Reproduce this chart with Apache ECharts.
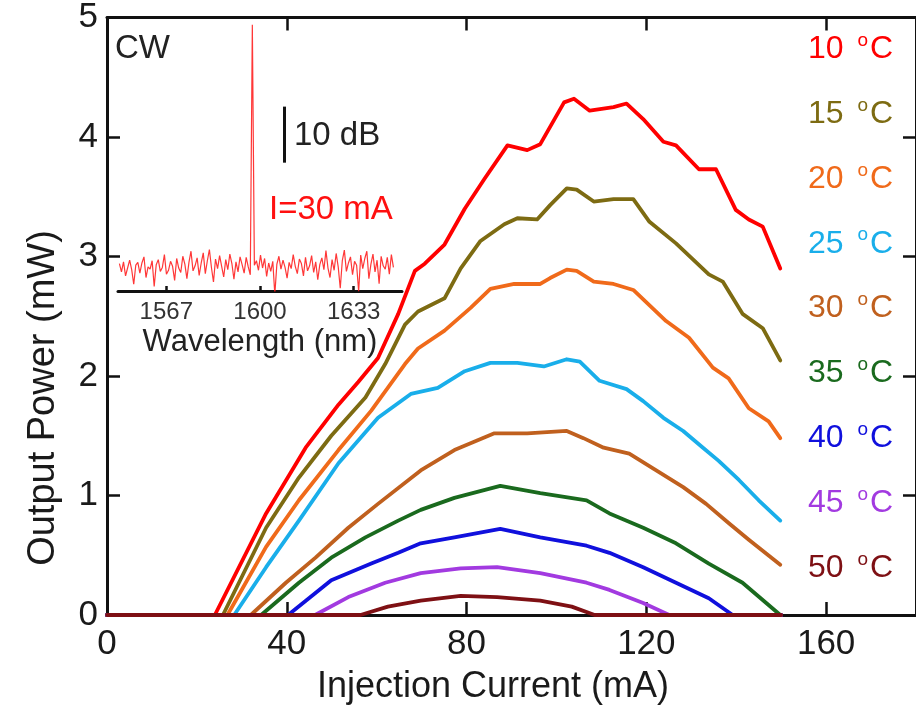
<!DOCTYPE html>
<html>
<head>
<meta charset="utf-8">
<script src="https://cdn.jsdelivr.net/npm/echarts@6/dist/echarts.min.js"></script>
<style>html,body{margin:0;padding:0;background:#fff}#c{width:916px;height:714px}</style>
</head>
<body>
<div id="c"></div>
<script>
// ---- Main chart data: injection current (mA) vs output power (mW) ----
const temps = ['10','15','20','25','30','35','40','45','50'];
const colors = ['#ff0000','#7d6b12','#f06a1a','#19aeea','#c0601e','#1a6a1e','#1010dd','#a23ae0','#7e1014'];

const t10 = [[0,0],[24.0,0],[35.4,0.85],[44.2,1.40],[51.5,1.76],[55.9,1.95],[60.3,2.15],[64.8,2.52],[68.5,2.88],[70.7,2.94],[75.1,3.10],[79.6,3.40],[84.0,3.65],[89.1,3.93],[93.5,3.89],[96.4,3.94],[101.7,4.29],[103.9,4.32],[107.4,4.22],[112.7,4.25],[115.6,4.28],[119.3,4.15],[123.8,3.96],[126.6,3.93],[131.7,3.73],[135.5,3.73],[139.9,3.39],[142.8,3.31],[145.9,3.25],[149.8,2.90]];
const t15 = [[0,0],[25.8,0],[35.4,0.73],[42.7,1.15],[49.9,1.50],[57.5,1.82],[61.9,2.10],[66.3,2.43],[69.2,2.54],[75.1,2.65],[78.7,2.90],[83.1,3.13],[88.4,3.27],[91.3,3.32],[95.7,3.31],[98.6,3.43],[102.3,3.57],[104.5,3.56],[108.3,3.46],[112.7,3.48],[117.1,3.48],[120.7,3.29],[126.6,3.11],[133.9,2.85],[137.0,2.79],[141.4,2.52],[145.9,2.40],[149.8,2.13]];
const t20 = [[0,0],[26.8,0],[35.4,0.57],[42.7,0.96],[51.5,1.38],[58.8,1.71],[66.3,2.10],[69.2,2.23],[75.1,2.38],[80.9,2.57],[85.3,2.73],[90.6,2.77],[96.4,2.77],[98.6,2.82],[102.3,2.89],[104.5,2.88],[108.3,2.79],[112.7,2.77],[117.1,2.72],[124.4,2.46],[129.5,2.32],[134.8,2.07],[138.3,1.98],[142.8,1.73],[147.2,1.62],[149.8,1.48]];
const t25 = [[0,0],[28.3,0],[35.4,0.40],[42.7,0.79],[51.5,1.27],[60.3,1.65],[67.6,1.85],[73.6,1.90],[79.6,2.04],[85.3,2.11],[91.3,2.11],[97.2,2.08],[102.3,2.14],[105.2,2.12],[109.6,1.96],[115.6,1.89],[119.3,1.79],[123.8,1.65],[128.2,1.54],[132.6,1.40],[136.1,1.29],[140.6,1.13],[145.0,0.96],[149.8,0.79]];
const t30 = [[0,0],[32.0,0],[39.8,0.27],[46.4,0.48],[53.7,0.73],[60.3,0.93],[69.8,1.21],[77.3,1.38],[86.2,1.52],[93.5,1.52],[102.3,1.54],[106.0,1.48],[110.5,1.40],[116.2,1.35],[122.2,1.21],[128.2,1.07],[133.3,0.93],[138.3,0.77],[142.8,0.63],[149.8,0.42]];
const t35 = [[0,0],[34.3,0],[42.7,0.27],[49.9,0.48],[57.5,0.65],[64.8,0.79],[69.8,0.88],[77.3,0.98],[87.5,1.08],[96.4,1.02],[106.7,0.96],[111.8,0.85],[119.3,0.73],[126.6,0.60],[133.9,0.43],[141.4,0.27],[149.8,0.0],[150,0]];
const t40 = [[0,0],[40.3,0],[49.9,0.29],[58.8,0.43],[64.8,0.52],[69.8,0.60],[77.3,0.65],[87.5,0.72],[96.4,0.65],[106.7,0.58],[111.8,0.52],[119.3,0.40],[126.6,0.27],[133.9,0.14],[139.2,0],[150,0]];
const t45 = [[0,0],[46.3,0],[53.7,0.15],[61.9,0.27],[69.8,0.35],[78.7,0.39],[86.8,0.40],[96.4,0.35],[106.7,0.27],[111.8,0.21],[119.3,0.10],[125.1,0],[150,0]];
const t50 = [[0,0],[56.4,0],[62.5,0.07],[69.8,0.12],[78.7,0.16],[86.8,0.15],[96.4,0.12],[103.4,0.07],[108.5,0],[150,0]];
const curves = [t10,t15,t20,t25,t30,t35,t40,t45,t50];

// ---- Inset spectrum (I = 30 mA) ----
const specStart = 1550.5;   // nm, first sample
const specStep = 0.72;      // nm between samples
const specDb = [
-43.1,-44.6,-42.8,-45.3,-43.9,-42.5,-44.2,-46.8,-43.4,-42.9,
-44.8,-43.0,-41.9,-45.6,-43.7,-44.1,-42.6,-47.2,-43.3,-42.4,
-44.5,-43.8,-41.5,-45.0,-44.3,-42.7,-43.6,-46.1,-42.2,-43.9,
-44.7,-41.8,-43.2,-45.8,-42.9,-40.9,-44.4,-43.5,-42.1,-45.2,
-43.0,-41.2,-44.9,-42.6,-40.6,-43.8,-46.4,-42.3,-44.0,-41.7,
-43.6,-45.5,-42.4,-44.2,-41.4,-43.1,-45.9,-42.8,-44.6,-41.9,
-43.3,-44.8,-42.0,-43.7,-45.1,-0.5,-43.4,-42.6,-44.3,-41.6,
-43.9,-42.2,-45.4,-43.0,-44.5,-42.7,-48.6,-43.2,-41.8,-44.1,
-42.5,-43.8,-45.7,-42.9,-44.0,-41.5,-43.6,-44.9,-42.3,-43.1,
-45.3,-42.0,-44.4,-43.5,-41.7,-44.7,-42.8,-46.0,-43.3,-42.1,
-44.2,-40.8,-43.9,-45.6,-42.4,-44.3,-41.3,-43.7,-47.5,-42.6,
-40.7,-44.5,-43.0,-41.9,-45.1,-42.7,-43.4,-48.1,-41.6,-44.0,
-42.2,-40.9,-45.8,-43.2,-41.4,-44.6,-42.5,-46.7,-41.8,-43.5,
-44.1,-42.0,-45.0,-41.5,-43.8];
const insetTicks = [1567,1600,1633];
const scaleBar = [[1608.6,-25.1],[1608.6,-15.1]]; // 10 dB bar

const FONT = "'Liberation Sans', Arial, sans-serif";
const chart = echarts.init(document.getElementById('c'), null, {renderer:'canvas'});

const specData = specDb.map((v,i)=>[specStart + i*specStep, v]);

const series = curves.map((d,i)=>({
  type:'line', name:temps[i] + ' °C', data:d, xAxisIndex:0, yAxisIndex:0,
  showSymbol:false, symbol:'none', smooth:false,
  lineStyle:{color:colors[i], width:3.8, join:'round', cap:'round'}, itemStyle:{color:colors[i]},
  z: 3 + i
}));
series.push({
  type:'line', data:specData, xAxisIndex:2, yAxisIndex:2,
  showSymbol:false, symbol:'none',
  lineStyle:{color:'rgba(255,20,20,0.85)', width:1.2}, z:2,
  markLine:{
    silent:true, symbol:'none', animation:false,
    lineStyle:{color:'#111', width:3, type:'solid'},
    label:{show:false},
    data:[[{coord:scaleBar[0]},{coord:scaleBar[1]}]]
  }
});

const axisLine = {show:true, onZero:false, lineStyle:{color:'#111', width:3}};
const graphics = [
  {type:'text', left:115, top:32, style:{text:'CW', fontSize:33, fontFamily:FONT, fill:'#222'}},
  {type:'text', left:294, top:119, style:{text:'10 dB', fontSize:33, fontFamily:FONT, fill:'#222'}},
  {type:'text', left:269, top:193, style:{text:'I=30 mA', fontSize:33, fontFamily:FONT, fill:'#ff1010'}},
  {type:'text', x:493, y:687, style:{text:'Injection Current (mA)', fontSize:36, fontFamily:FONT, fill:'#1a1a1a', align:'center', verticalAlign:'middle'}},
  {type:'text', x:44, y:398, rotation:Math.PI/2, style:{text:'Output Power (mW)', fontSize:38, fontFamily:FONT, fill:'#1a1a1a', align:'center', verticalAlign:'middle'}}
];
temps.forEach((t,i)=>{
  graphics.push({type:'text', left:808, top:31 + i*64.9,
    style:{text:'{n|' + t + ' }{o|o}{c|C}', fill:colors[i],
      rich:{
        n:{fontSize:32, fontFamily:FONT, fill:colors[i], color:colors[i]},
        o:{fontSize:19, fontFamily:FONT, fill:colors[i], color:colors[i], verticalAlign:'top', padding:[0,2,17,5]},
        c:{fontSize:32, fontFamily:FONT, fill:colors[i], color:colors[i]}
      }}});
});

chart.setOption({
  animation:false,
  backgroundColor:'#fff',
  textStyle:{fontFamily:FONT},
  grid:[
    {left:107, top:15, width:814.5, height:600},
    {left:118, top:22, width:284, height:269}
  ],
  xAxis:[
    {type:'value', gridIndex:0, min:0, max:180, interval:40, position:'bottom',
     axisLine:axisLine, splitLine:{show:false},
     axisTick:{show:true, inside:true, length:13, lineStyle:{color:'#111', width:2.5}},
     axisLabel:{fontSize:35, color:'#1a1a1a', margin:12, fontFamily:FONT, showMaxLabel:false}},
    {type:'value', gridIndex:0, min:0, max:180, interval:40, position:'top',
     axisLine:axisLine, splitLine:{show:false},
     axisTick:{show:true, inside:true, length:13, lineStyle:{color:'#111', width:2.5}},
     axisLabel:{show:false}},
    {type:'value', gridIndex:1, min:1550, max:1650, position:'bottom',
     axisLine:axisLine, splitLine:{show:false},
     axisTick:{show:true, inside:true, length:5, customValues:insetTicks, lineStyle:{color:'#111', width:2.5}},
     axisLabel:{fontSize:24, color:'#333', margin:9, fontFamily:FONT, customValues:insetTicks,
       formatter:(v)=>String(v)},
     name:'Wavelength (nm)', nameLocation:'middle', nameGap:36,
     nameTextStyle:{fontSize:31, color:'#222', fontFamily:FONT}}
  ],
  yAxis:[
    {type:'value', gridIndex:0, min:0, max:5, interval:1, position:'left',
     axisLine:axisLine, splitLine:{show:false},
     axisTick:{show:true, inside:true, length:13, lineStyle:{color:'#111', width:2.5}},
     axisLabel:{fontSize:35, color:'#1a1a1a', margin:9, fontFamily:FONT}},
    {type:'value', gridIndex:0, min:0, max:5, interval:1, position:'right',
     axisLine:axisLine, splitLine:{show:false},
     axisTick:{show:true, inside:true, length:13, lineStyle:{color:'#111', width:2.5}},
     axisLabel:{show:false}},
    {type:'value', gridIndex:1, min:-48, max:0, show:false}
  ],
  series:series,
  graphic:graphics
});
</script>
</body>
</html>
